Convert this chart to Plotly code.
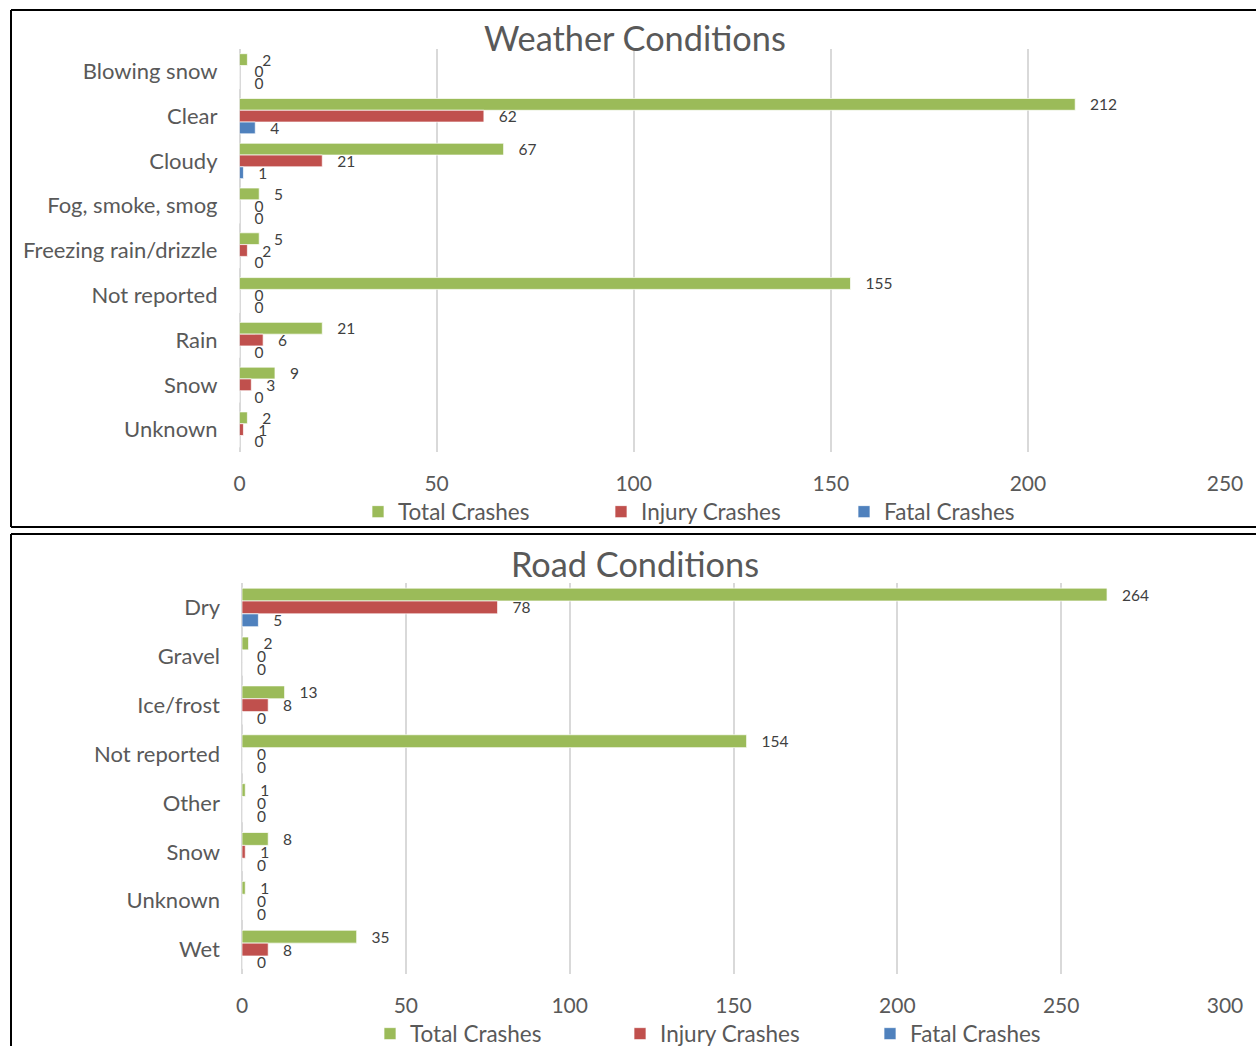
import plotly.graph_objects as go

# Weather conditions
weather_categories = ["Blowing snow", "Clear", "Cloudy", "Fog, smoke, smog",
                      "Freezing rain/drizzle", "Not reported", "Rain", "Snow", "Unknown"]
weather_total = [2, 212, 67, 5, 5, 155, 21, 9, 2]
weather_injury = [0, 62, 21, 0, 2, 0, 6, 3, 1]
weather_fatal = [0, 4, 1, 0, 0, 0, 0, 0, 0]

# Road conditions
road_categories = ["Dry", "Gravel", "Ice/frost", "Not reported", "Other",
                   "Snow", "Unknown", "Wet"]
road_total = [264, 2, 13, 154, 1, 8, 1, 35]
road_injury = [78, 0, 8, 0, 0, 1, 0, 8]
road_fatal = [5, 0, 0, 0, 0, 0, 0, 0]

series_names = ["Total Crashes", "Injury Crashes", "Fatal Crashes"]
series_colors = ["#9BBB59", "#C0504D", "#4F81BD"]

W, H = 1256, 1046
FONT = "Lato, Calibri, sans-serif"
LABEL_COLOR = "#595959"


def px_x(x):
    return x / W


def px_y(y):
    return 1 - y / H


fig = go.Figure()

charts = [
    (weather_categories, [weather_total, weather_injury, weather_fatal], "x", "y", "legend"),
    (road_categories, [road_total, road_injury, road_fatal], "x2", "y2", "legend2"),
]

for cats, series, xa, ya, lg in charts:
    for name, vals, color in zip(series_names, series, series_colors):
        fig.add_trace(go.Bar(
            y=cats,
            x=vals,
            name=name,
            orientation='h',
            marker=dict(color=color, line=dict(color='rgba(255,255,255,0.7)', width=1)),
            texttemplate='\u00a0\u00a0\u00a0%{x}',
            textposition='outside',
            textfont=dict(size=15.5, color="#404040", family=FONT),
            constraintext='none',
            cliponaxis=False,
            xaxis=xa,
            yaxis=ya,
            legend=lg,
        ))

axis_common = dict(
    showgrid=True,
    gridcolor="#d9d9d9",
    gridwidth=1.5,
    zeroline=True,
    zerolinecolor="#d9d9d9",
    zerolinewidth=1.5,
    showline=False,
    ticks="",
    tickfont=dict(size=21, color=LABEL_COLOR, family=FONT),
    ticklabelstandoff=17,
    fixedrange=True,
)
yaxis_common = dict(
    showgrid=False,
    zeroline=False,
    showline=False,
    ticks="",
    autorange="reversed",
    tickfont=dict(size=22, color=LABEL_COLOR, family=FONT),
    ticklabelstandoff=21,
    fixedrange=True,
)

legend_common = dict(
    orientation="h",
    xanchor="left",
    yanchor="middle",
    font=dict(size=22.5, color=LABEL_COLOR, family=FONT),
    entrywidthmode="pixels",
    itemclick=False,
    itemdoubleclick=False,
    bgcolor="rgba(0,0,0,0)",
)

fig.update_layout(
    width=W,
    height=H,
    autosize=False,
    margin=dict(l=0, r=0, t=0, b=0, autoexpand=False),
    paper_bgcolor="white",
    plot_bgcolor="white",
    barmode="group",
    bargap=0.21,
    bargroupgap=0,
    font=dict(family=FONT, color=LABEL_COLOR),
    xaxis=dict(axis_common, domain=[px_x(239.5), px_x(1225)], range=[0, 250],
               dtick=50, anchor="y"),
    yaxis=dict(yaxis_common, domain=[px_y(452), px_y(49)], anchor="x"),
    xaxis2=dict(axis_common, domain=[px_x(242), px_x(1225)], range=[0, 300],
                dtick=50, anchor="y2"),
    yaxis2=dict(yaxis_common, domain=[px_y(974), px_y(583)], anchor="x2"),
    legend=dict(legend_common, x=px_x(358), y=px_y(512), entrywidth=198),
    legend2=dict(legend_common, x=px_x(370), y=px_y(1034), entrywidth=205),
    showlegend=True,
)

# chart titles
fig.add_annotation(text="Weather Conditions", x=px_x(635), y=px_y(37), xref="paper", yref="paper",
                   xanchor="center", yanchor="middle", showarrow=False,
                   font=dict(size=34.3, color=LABEL_COLOR, family=FONT))
fig.add_annotation(text="Road Conditions", x=px_x(635), y=px_y(563), xref="paper", yref="paper",
                   xanchor="center", yanchor="middle", showarrow=False,
                   font=dict(size=34.3, color=LABEL_COLOR, family=FONT))

# chart frames (right/bottom edges run off the page, so only draw what is visible)
frame = dict(color="black", width=2)
frame_lines = [
    (11, 10, 1256, 10), (11, 10, 11, 527), (11, 527, 1256, 527),   # top chart
    (11, 534, 1256, 534), (11, 534, 11, 1046),                      # bottom chart
]
for x0, y0, x1, y1 in frame_lines:
    fig.add_shape(type="line", xref="paper", yref="paper",
                  x0=px_x(x0), y0=px_y(y0), x1=px_x(x1), y1=px_y(y1),
                  line=frame, layer="above")

fig.write_html(
    "out.html",
    config={"displayModeBar": False, "responsive": False},
    post_script="document.body.style.margin='0';document.body.style.overflow='hidden';",
)
